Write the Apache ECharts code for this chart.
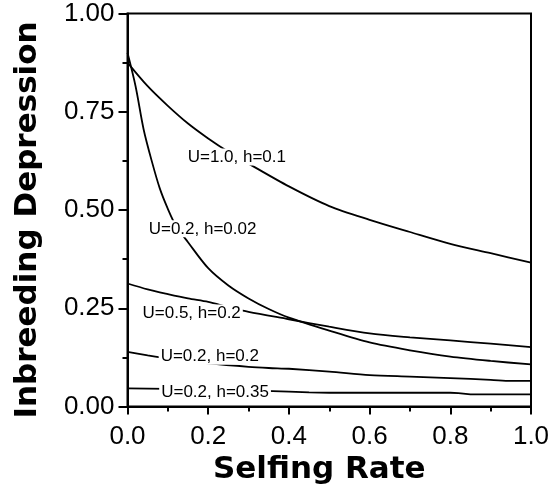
<!DOCTYPE html>
<html>
<head>
<meta charset="utf-8">
<script src="https://cdn.jsdelivr.net/npm/echarts@6/dist/echarts.min.js"></script>
<style>
  html, body { margin: 0; padding: 0; background: #fff; }
  #chart { width: 559px; height: 495px; }
</style>
</head>
<body>
<div id="chart"></div>
<script>
// curve values (selfing rate -> inbreeding depression)
const xU10h01 = [0, 0.05, 0.1, 0.15, 0.2, 0.25, 0.3, 0.4, 0.5, 0.6, 0.7, 0.8, 0.9, 1.0];
const yU10h01 = [0.875, 0.815, 0.765, 0.72, 0.682, 0.648, 0.618, 0.56, 0.51, 0.475, 0.444, 0.414, 0.39, 0.366];

const xU02h002 = [0, 0.02, 0.04, 0.06, 0.08, 0.1, 0.12, 0.15, 0.2, 0.25, 0.3, 0.35, 0.4, 0.5, 0.6, 0.7, 0.8, 0.9, 1.0];
const yU02h002 = [0.90, 0.815, 0.705, 0.625, 0.555, 0.503, 0.46, 0.418, 0.352, 0.308, 0.275, 0.248, 0.226, 0.193, 0.163, 0.143, 0.127, 0.116, 0.107];

const xU05h02 = [0, 0.05, 0.1, 0.15, 0.2, 0.25, 0.3, 0.4, 0.5, 0.6, 0.7, 0.8, 0.9, 1.0];
const yU05h02 = [0.313, 0.298, 0.286, 0.275, 0.266, 0.253, 0.241, 0.222, 0.203, 0.186, 0.176, 0.168, 0.160, 0.151];

const xU02h02 = [0, 0.05, 0.1, 0.2, 0.3, 0.35, 0.4, 0.5, 0.6, 0.7, 0.8, 0.9, 0.95, 1.0];
const yU02h02 = [0.139, 0.130, 0.122, 0.110, 0.101, 0.098, 0.096, 0.089, 0.080, 0.076, 0.072, 0.068, 0.065, 0.065];

const xU02h035 = [0, 0.1, 0.2, 0.3, 0.4, 0.45, 0.5, 0.6, 0.7, 0.8, 0.82, 0.85, 0.9, 1.0];
const yU02h035 = [0.046, 0.045, 0.043, 0.041, 0.038, 0.036, 0.035, 0.035, 0.035, 0.035, 0.034, 0.031, 0.031, 0.031];

const curveNames = ['U=1.0, h=0.1', 'U=0.2, h=0.02', 'U=0.5, h=0.2', 'U=0.2, h=0.2', 'U=0.2, h=0.35'];
// where each curve's label sits (data coords)
const labelAt = [[0.271, 0.635], [0.186, 0.452], [0.159, 0.238], [0.204, 0.128], [0.217, 0.036]];

const xTicks = [0, 0.2, 0.4, 0.6, 0.8, 1.0];
const yTicks = [0, 0.25, 0.5, 0.75, 1.0];

const zip = (xs, ys) => xs.map((x, i) => [x, ys[i]]);
const curves = [
  zip(xU10h01, yU10h01),
  zip(xU02h002, yU02h002),
  zip(xU05h02, yU05h02),
  zip(xU02h02, yU02h02),
  zip(xU02h035, yU02h035)
];

const chart = echarts.init(document.getElementById('chart'));

const axisLine = { show: true, lineStyle: { color: '#000', width: 2 } };

const option = {
  animation: false,
  backgroundColor: '#fff',
  grid: {
    left: 127.5, right: 28, top: 13.5, bottom: 88.5,
    outerBoundsMode: 'none',
    show: true, borderColor: '#000', borderWidth: 2
  },
  xAxis: {
    type: 'value',
    min: 0, max: 1, interval: 0.2,
    name: 'Selfing Rate',
    nameLocation: 'middle',
    nameGap: 39,
    nameTextStyle: {
      fontFamily: 'DejaVu Sans', fontWeight: 'bold', fontSize: 31, color: '#000',
      padding: [0, 20, 0, 0]
    },
    axisLine: axisLine,
    axisTick: { show: true, length: 8, lineStyle: { color: '#000', width: 2 } },
    minorTick: { show: true, splitNumber: 2, length: 5, lineStyle: { color: '#000', width: 2 } },
    splitLine: { show: false },
    axisLabel: {
      margin: 17,
      fontFamily: 'Liberation Sans', fontSize: 26, color: '#000',
      formatter: (v) => xTicks.some(t => Math.abs(t - v) < 1e-9) ? v.toFixed(1) : ''
    }
  },
  yAxis: {
    type: 'value',
    min: 0, max: 1, interval: 0.25,
    name: 'Inbreeding Depression',
    nameLocation: 'middle',
    nameGap: 84,
    nameTextStyle: {
      fontFamily: 'DejaVu Sans', fontWeight: 'bold', fontSize: 31, color: '#000',
      padding: [0, 20, 0, 0]
    },
    axisLine: axisLine,
    axisTick: { show: true, length: 9, lineStyle: { color: '#000', width: 2 } },
    minorTick: { show: true, splitNumber: 2, length: 5, lineStyle: { color: '#000', width: 2 } },
    splitLine: { show: false },
    axisLabel: {
      margin: 13,
      fontFamily: 'Liberation Sans', fontSize: 26, color: '#000',
      formatter: (v) => yTicks.some(t => Math.abs(t - v) < 1e-9) ? v.toFixed(2) : ''
    }
  },
  series: curves.map((data, i) => ({
    name: curveNames[i],
    type: 'line',
    data: data,
    smooth: i === 4 ? false : 0.3,
    symbol: 'none',
    lineStyle: { color: '#000', width: 1.8 },
    markPoint: {
      symbol: 'circle',
      symbolSize: 1,
      itemStyle: { color: 'rgba(0,0,0,0)' },
      label: {
        show: true,
        position: 'inside',
        formatter: curveNames[i],
        fontFamily: 'Liberation Sans',
        fontSize: 17,
        lineHeight: 15,
        color: '#000',
        backgroundColor: '#fff',
        padding: [1, 2]
      },
      data: [{ coord: labelAt[i] }]
    }
  }))
};

chart.setOption(option);
</script>
</body>
</html>
